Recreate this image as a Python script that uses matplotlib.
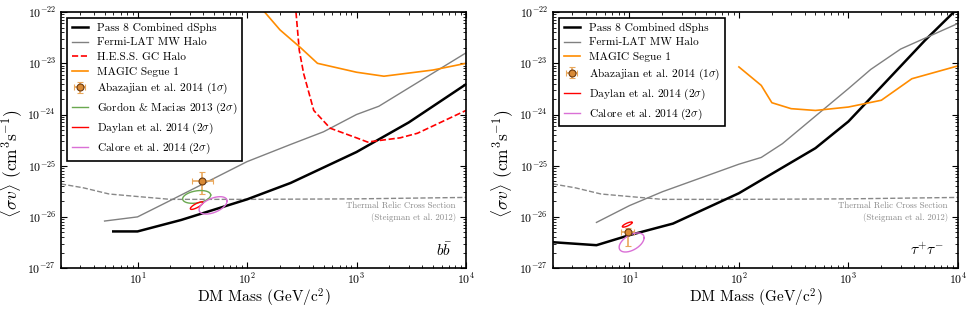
import numpy as np
import matplotlib
matplotlib.use("Agg")
import matplotlib.pyplot as plt

plt.rcParams['font.family'] = ['cmr10', 'DejaVu Serif']
plt.rcParams['mathtext.fontset'] = 'cm'
plt.rcParams['axes.formatter.use_mathtext'] = True

# --- b bbar channel ---
bb_p8_m = [6, 10, 25, 100, 250, 1000, 3000, 10000]
bb_p8_sv = [5.2e-27, 5.2e-27, 8.7e-27, 2.2e-26, 4.6e-26, 1.85e-25, 7e-25, 3.9e-24]
bb_mw_m = [5, 10, 20, 100, 250, 500, 1000, 1600, 10000]
bb_mw_sv = [8.3e-27, 1.0e-26, 2.1e-26, 1.2e-25, 2.6e-25, 4.6e-25, 1.0e-24, 1.45e-24, 1.6e-23]
bb_hess_m = [280, 300, 329, 407, 575, 1000, 1260, 2500, 3600, 10000]
bb_hess_sv = [1e-22, 1.8e-23, 6.3e-24, 1.2e-24, 5.4e-25, 3.5e-25, 2.9e-25, 3.5e-25, 4.3e-25, 1.2e-24]
bb_magic_m = [145, 200, 310, 440, 1000, 1780, 5000, 10000]
bb_magic_sv = [1e-22, 4.5e-23, 2e-23, 1e-23, 6.7e-24, 5.6e-24, 7.4e-24, 1.0e-23]
bb_aba = (39, 5.1e-26, 31.5, 49, 2.8e-26, 7.4e-26)  # x, y, xlo, xhi, ylo, yhi
# contours in log space: log10 centre x, log10 centre y, half-width x, half-height y, correlation
bb_gordon = (1.54, -25.61, 0.128, 0.125, 0.3)
bb_daylan = (1.54, -25.78, 0.058, 0.074, 0.8)
bb_calore = (1.69, -25.775, 0.128, 0.17, 0.5)

# --- tau tau channel ---
tt_p8_m = [2, 5, 10, 25, 100, 250, 500, 1000, 2000, 5000, 10000]
tt_p8_sv = [3.2e-27, 2.8e-27, 4.4e-27, 7.4e-27, 2.9e-26, 9.2e-26, 2.2e-25, 7.3e-25, 3.5e-24, 2.8e-23, 1.2e-22]
tt_mw_m = [5, 10, 20, 100, 160, 250, 1000, 1600, 3000, 10000]
tt_mw_sv = [7.8e-27, 1.66e-26, 3.1e-26, 1.07e-25, 1.45e-25, 2.7e-25, 3.2e-24, 7.6e-24, 1.9e-23, 6e-23]
tt_magic_m = [100, 160, 200, 300, 500, 1000, 2000, 3800, 10000]
tt_magic_sv = [8.5e-24, 3.7e-24, 1.7e-24, 1.3e-24, 1.2e-24, 1.4e-24, 1.9e-24, 5e-24, 8.9e-24]
tt_aba = (9.7, 5.0e-27, 8.4, 11.0, 2.7e-27, 6.0e-27)
tt_daylan = (0.98, -26.15, 0.045, 0.05, 0.8)
tt_calore = (1.02, -26.50, 0.114, 0.186, 0.5)

# thermal relic (Steigman et al. 2012)
relic_m = [2, 3.2, 5.5, 10, 20, 100, 1000, 10000]
relic_sv = [4.4e-26, 3.7e-26, 2.8e-26, 2.5e-26, 2.2e-26, 2.2e-26, 2.25e-26, 2.4e-26]


def contour(ax, p, color, label):
    cx, cy, ax_, ay, rho = p
    t = np.linspace(0, 2 * np.pi, 200)
    lx = cx + ax_ * np.cos(t)
    ly = cy + ay * (rho * np.cos(t) + np.sqrt(1 - rho ** 2) * np.sin(t))
    return ax.plot(10 ** lx, 10 ** ly, color=color, lw=1.0, label=label)[0]


def aba(ax, p):
    x, y, xlo, xhi, ylo, yhi = p
    return ax.errorbar([x], [y], xerr=[[x - xlo], [xhi - x]], yerr=[[y - ylo], [yhi - y]],
                       fmt='o', ms=5, mfc='#d98a35', mec='#6b3a10', mew=0.8,
                       ecolor='#eaa85c', elinewidth=1.2, capsize=2.5,
                       label=r'Abazajian et al. 2014 (1$\sigma$)')


def setup(ax):
    ax.set_xscale('log')
    ax.set_yscale('log')
    ax.set_xlim(2, 1e4)
    ax.set_ylim(1e-27, 1e-22)
    ax.tick_params(which='both', direction='in', top=True, right=True, labelsize=8.5)
    ax.tick_params(axis='x', pad=2.5)
    ax.tick_params(which='major', length=4)
    ax.tick_params(which='minor', length=2)
    ax.set_xlabel(r'DM Mass (GeV/c$^2$)', fontsize=11, labelpad=0)
    ax.set_ylabel(r'$\langle \sigma v \rangle$ (cm$^3$s$^{-1}$)', fontsize=12.5)
    ax.yaxis.set_label_coords(-0.09, 0.41)
    ax.plot(relic_m, relic_sv, color='#888888', ls='--', lw=1.0)
    ax.text(0.975, 0.22, 'Thermal Relic Cross Section\n(Steigman et al. 2012)', transform=ax.transAxes,
            ha='right', va='center', fontsize=6.3, color='#888888', linespacing=1.3)
    for s in ax.spines.values():
        s.set_linewidth(1.2)


def legend(ax, h):
    leg = ax.legend(handles=h, loc='upper left', fontsize=8.2, frameon=True, fancybox=False,
                    edgecolor='black', framealpha=1, borderaxespad=0.55, handlelength=1.4,
                    labelspacing=0.4, borderpad=0.4)
    leg.get_frame().set_linewidth(1.2)


fig = plt.figure(figsize=(9.7, 3.11), dpi=100)
ax1 = fig.add_axes([0.0629, 0.138, 0.4175, 0.823])
ax2 = fig.add_axes([0.570, 0.138, 0.4175, 0.823])

setup(ax1)
h = []
h.append(ax1.plot(bb_p8_m, bb_p8_sv, color='black', lw=1.8, label='Pass 8 Combined dSphs')[0])
h.append(ax1.plot(bb_mw_m, bb_mw_sv, color='#808080', lw=1.0, label='Fermi-LAT MW Halo')[0])
h.append(ax1.plot(bb_hess_m, bb_hess_sv, color='red', ls='--', lw=1.2, label='H.E.S.S. GC Halo')[0])
h.append(ax1.plot(bb_magic_m, bb_magic_sv, color='darkorange', lw=1.2, label='MAGIC Segue 1')[0])
h.append(aba(ax1, bb_aba))
h.append(contour(ax1, bb_gordon, '#6aa84f', r'Gordon & Macias 2013 (2$\sigma$)'))
h.append(contour(ax1, bb_daylan, 'red', r'Daylan et al. 2014 (2$\sigma$)'))
h.append(contour(ax1, bb_calore, '#da70d6', r'Calore et al. 2014 (2$\sigma$)'))
legend(ax1, h)
ax1.text(0.965, 0.07, r'$b\bar{b}$', transform=ax1.transAxes, ha='right', va='center', fontsize=11)

setup(ax2)
h = []
h.append(ax2.plot(tt_p8_m, tt_p8_sv, color='black', lw=1.8, label='Pass 8 Combined dSphs')[0])
h.append(ax2.plot(tt_mw_m, tt_mw_sv, color='#808080', lw=1.0, label='Fermi-LAT MW Halo')[0])
h.append(ax2.plot(tt_magic_m, tt_magic_sv, color='darkorange', lw=1.2, label='MAGIC Segue 1')[0])
h.append(aba(ax2, tt_aba))
h.append(contour(ax2, tt_daylan, 'red', r'Daylan et al. 2014 (2$\sigma$)'))
h.append(contour(ax2, tt_calore, '#da70d6', r'Calore et al. 2014 (2$\sigma$)'))
legend(ax2, h)
ax2.text(0.965, 0.07, r'$\tau^{+}\tau^{-}$', transform=ax2.transAxes, ha='right', va='center', fontsize=11)

fig.savefig('out.png', dpi=100)
